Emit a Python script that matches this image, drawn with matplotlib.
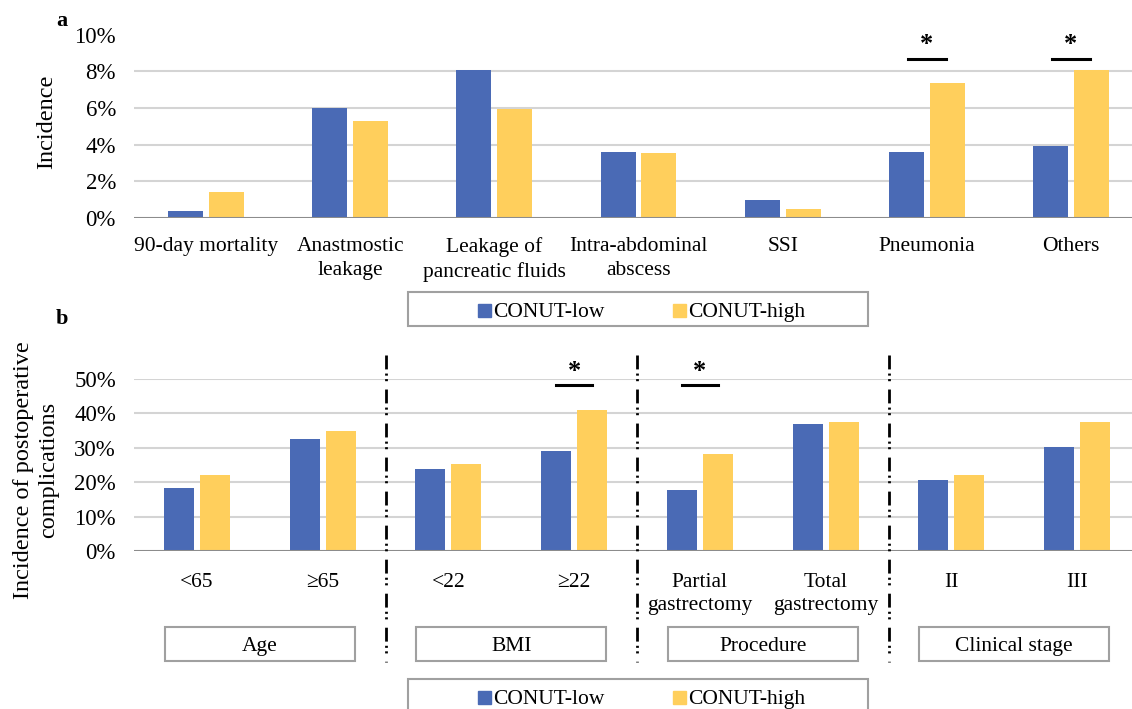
import matplotlib
matplotlib.use("Agg")
import matplotlib.pyplot as plt
import matplotlib.transforms as mtransforms
from matplotlib.patches import Rectangle
from matplotlib.lines import Line2D
import numpy as np

plt.rcParams['font.family'] = ['Liberation Serif', 'DejaVu Serif']
plt.rcParams['lines.scale_dashes'] = False

# ---- data
cats_a = ["90-day mortality", "Anastmostic\nleakage", "Leakage of\npancreatic fluids",
          "Intra-abdominal\nabscess", "SSI", "Pneumonia", "Others"]
low_a = [0.38, 6.0, 8.05, 3.6, 1.0, 3.6, 3.95]
high_a = [1.42, 5.3, 5.95, 3.55, 0.47, 7.38, 8.08]
sig_a = [5, 6]

cats_b = ["<65", "\u226565", "<22", "\u226522", "Partial\ngastrectomy", "Total\ngastrectomy", "II", "III"]
low_b = [18.3, 32.6, 23.8, 29.1, 17.7, 36.8, 20.6, 30.2]
high_b = [22.1, 34.9, 25.3, 41.0, 28.2, 37.5, 22.1, 37.5]
sig_b = [3, 4]
groups_b = ["Age", "BMI", "Procedure", "Clinical stage"]

series = ["CONUT-low", "CONUT-high"]
blue = "#4A6AB5"
yellow = "#FFCF5C"
grid_c = "#D4D4D4"
axis_c = "#8C8C8C"

W, H = 1132, 709
fig = plt.figure(figsize=(W / 100, H / 100), dpi=100)


def fx(px):
    return px / W


def fy(py):
    return 1 - py / H


def style_axes(ax, yticks, fmt):
    for s in ax.spines.values():
        s.set_visible(False)
    ax.set_yticks(yticks)
    ax.set_yticklabels([fmt % v for v in yticks], fontsize=16.5)
    ax.tick_params(axis='both', length=0)
    ax.tick_params(axis='y', pad=13)


# ---------------- panel a
ax_a = fig.add_axes([fx(134), fy(218), fx(1009), (218 - 34.7) / H])
xa = np.arange(len(cats_a)) + 0.5
ax_a.bar(xa - 0.142, low_a, width=0.243, color=blue, zorder=3)
ax_a.bar(xa + 0.142, high_a, width=0.243, color=yellow, zorder=3)
ax_a.set_xlim(0, len(cats_a))
ax_a.set_ylim(0, 10)
for g in [2, 4, 6, 8]:
    ax_a.axhline(g, color=grid_c, lw=1.5, zorder=1)
ax_a.axhline(0, color=axis_c, lw=1.5, zorder=4)
style_axes(ax_a, [0, 2, 4, 6, 8, 10], "%d%%")
ax_a.set_xticks(xa)
ax_a.set_xticklabels(cats_a, fontsize=15.5, linespacing=1.3, va='top')
ax_a.tick_params(axis='x', pad=14)
for i in sig_a:
    ax_a.plot([xa[i] - 0.132, xa[i] + 0.132], [8.67, 8.67], color='black', lw=2.2, clip_on=False)
    ax_a.text(xa[i], 9.45, "*", ha='center', va='center', fontsize=19, fontweight='bold')

fig.text(fx(47), fy(122), "Incidence", rotation=90, ha='center', va='center', fontsize=17.5)
fig.text(fx(62), fy(21), "a", ha='center', va='center', fontsize=16, fontweight='bold')


def draw_legend(y_top, y_bot):
    fig.patches.append(Rectangle((fx(408), fy(y_bot)), fx(460), (y_bot - y_top) / H,
                                 transform=fig.transFigure, fill=False, edgecolor='#A0A0A0', lw=1.5))
    yc = y_top + 18
    for x0, c, lab in [(478, blue, series[0]), (673, yellow, series[1])]:
        fig.patches.append(Rectangle((fx(x0), fy(yc + 6.5)), fx(13), 13 / H,
                                     transform=fig.transFigure, color=c))
        fig.text(fx(x0 + 15), fy(yc + 7), lab, ha='left', va='baseline', fontsize=15.5)


draw_legend(292, 326)

# ---------------- panel b
ax_b = fig.add_axes([fx(134), fy(551), fx(1006), (551 - 379) / H])
xb = np.arange(len(cats_b)) + 0.5
ax_b.bar(xb - 0.143, low_b, width=0.239, color=blue, zorder=3)
ax_b.bar(xb + 0.143, high_b, width=0.239, color=yellow, zorder=3)
ax_b.set_xlim(0, len(cats_b))
ax_b.set_ylim(0, 50)
for g in [10, 20, 30, 40, 50]:
    ax_b.axhline(g, color=grid_c, lw=1.5, zorder=1)
ax_b.axhline(0, color=axis_c, lw=1.5, zorder=4)
style_axes(ax_b, [0, 10, 20, 30, 40, 50], "%d%%")
ax_b.set_xticks(xb)
ax_b.set_xticklabels(cats_b, fontsize=15.5, linespacing=1.3, va='top')
ax_b.tick_params(axis='x', pad=16)
for i in sig_b:
    ax_b.plot([xb[i] - 0.143, xb[i] + 0.143], [48.3, 48.3], color='black', lw=2.2, clip_on=False)
    ax_b.text(xb[i], 52.3, "*", ha='center', va='center', fontsize=19, fontweight='bold')

trans = mtransforms.blended_transform_factory(ax_b.transData, fig.transFigure)
for k, name in enumerate(groups_b):
    x0 = 2 * k + 0.245
    fig.patches.append(Rectangle((x0, fy(661)), 2 - 0.49, (661 - 627) / H, transform=trans,
                                 fill=False, edgecolor='#A0A0A0', lw=1.5))
    fig.text(2 * k + 1, fy(651), name, transform=trans, ha='center', va='baseline', fontsize=15.5)
for d in [2, 4, 6]:
    fig.lines.append(Line2D([d, d], [fy(355), fy(662)], transform=trans, color='black', lw=2,
                            dashes=(10, 3, 1.5, 2.5, 1.5, 6)))

fig.text(fx(36), fy(470), "Incidence of postoperative\ncomplications", rotation=90,
         ha='center', va='center', fontsize=17.5, multialignment='center', linespacing=1.25)
fig.text(fx(62), fy(319), "b", ha='center', va='center', fontsize=16, fontweight='bold')

draw_legend(679, 725)

fig.savefig("out.png", dpi=100)
